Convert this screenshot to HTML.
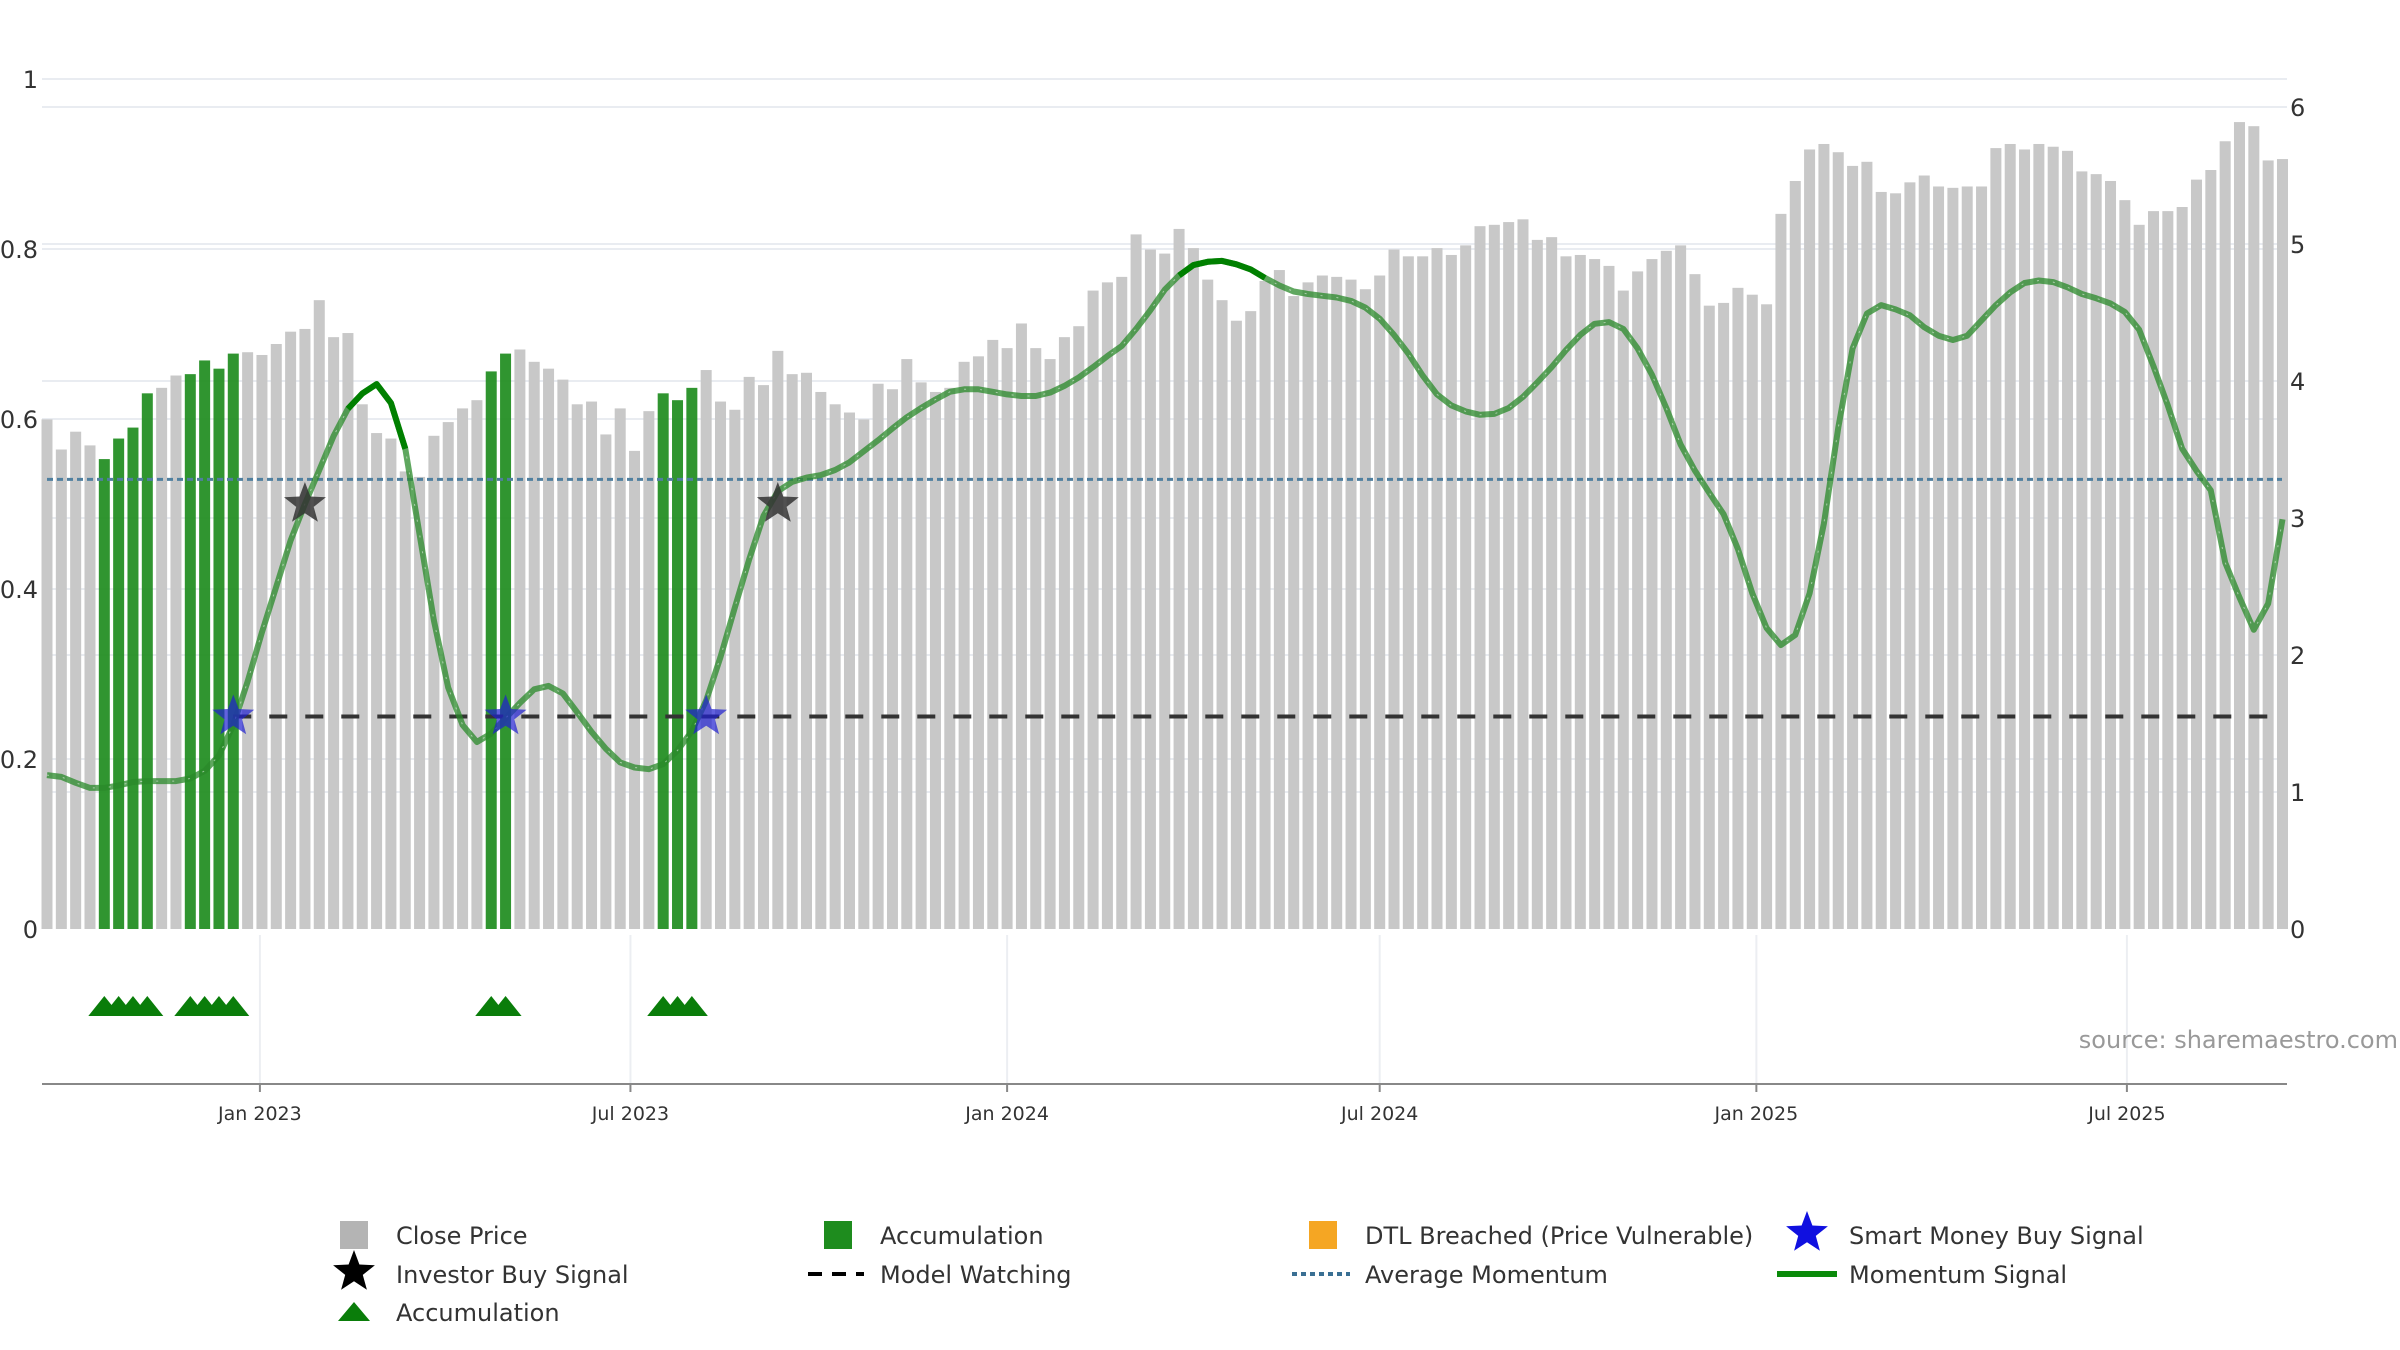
<!DOCTYPE html>
<html><head><meta charset="utf-8"><style>
body{margin:0;background:#fff;}
svg{display:block;font-family:"DejaVu Sans","Liberation Sans",sans-serif;}
</style></head><body>
<svg id="chart" width="2400" height="1350" viewBox="0 0 2400 1350" xmlns="http://www.w3.org/2000/svg">
<g id="grid"></g>
<g id="bars"></g>
<g id="lines"></g>
<g id="marks"></g>
<g id="axes"></g>
<text x="2398" y="1048" text-anchor="end" font-size="24" fill="#999">source: sharemaestro.com</text>
<g id="legend"></g>
</svg>
<script>
const startDate = "2022-09-19";
const prices = [3.72,3.50,3.63,3.53,3.43,3.58,3.66,3.91,3.95,4.04,4.05,4.15,4.09,4.20,4.21,4.19,4.27,4.36,4.38,4.59,4.32,4.35,3.83,3.62,3.58,3.34,3.30,3.60,3.70,3.80,3.86,4.07,4.20,4.23,4.14,4.09,4.01,3.83,3.85,3.61,3.80,3.49,3.78,3.91,3.86,3.95,4.08,3.85,3.79,4.03,3.97,4.22,4.05,4.06,
3.92,3.83,3.77,3.72,3.98,3.94,4.16,3.99,3.92,3.95,4.14,4.18,4.30,4.24,4.42,4.24,4.16,4.32,4.40,4.66,4.72,4.76,5.07,4.96,4.93,5.11,4.97,4.74,4.59,4.44,4.51,4.73,4.81,4.62,4.72,4.77,4.76,4.74,4.67,4.77,4.96,4.91,4.91,4.97,4.92,4.99,5.13,5.14,5.16,5.18,5.03,5.05,4.91,4.92,4.89,4.84,4.66,4.80,
4.89,4.95,4.99,4.78,4.55,4.57,4.68,4.63,4.56,5.22,5.46,5.69,5.73,5.67,5.57,5.60,5.38,5.37,5.45,5.50,5.42,5.41,5.42,5.42,5.70,5.73,5.69,5.73,5.71,5.68,5.53,5.51,5.46,5.32,5.14,5.24,5.24,5.27,5.47,5.54,5.75,5.89,5.86,5.61,5.62];
const momentum = [0.181,0.179,0.172,0.166,0.166,0.169,0.173,0.174,0.174,0.174,0.177,0.186,0.204,0.240,0.291,0.349,0.403,0.457,0.500,0.540,0.580,0.612,0.630,0.641,0.619,0.565,0.464,0.363,0.284,0.240,0.220,0.230,0.248,0.266,0.282,0.286,0.277,0.255,0.232,0.212,0.196,0.190,0.188,0.194,0.210,0.233,0.269,0.320,0.378,0.435,0.486,0.515,0.526,0.531,
0.534,0.540,0.549,0.562,0.575,0.589,0.602,0.613,0.623,0.632,0.635,0.635,0.632,0.629,0.627,0.627,0.631,0.639,0.649,0.661,0.674,0.686,0.706,0.728,0.752,0.769,0.781,0.785,0.786,0.782,0.776,0.766,0.757,0.750,0.747,0.745,0.743,0.739,0.731,0.718,0.699,0.677,0.651,0.629,0.616,0.609,0.605,0.606,0.613,0.626,0.643,0.661,0.681,0.699,0.712,0.714,0.706,0.683,
0.652,0.613,0.570,0.539,0.513,0.488,0.447,0.395,0.354,0.334,0.346,0.395,0.477,0.590,0.683,0.724,0.734,0.729,0.722,0.708,0.698,0.693,0.698,0.716,0.734,0.749,0.760,0.763,0.761,0.755,0.747,0.742,0.736,0.726,0.705,0.662,0.616,0.565,0.539,0.516,0.431,0.390,0.352,0.383,0.482];
const accumIdx = [4,5,6,7,10,11,12,13,31,32,43,44,45];
const strongRanges = [[21,25],[79,85]];
const smartIdx = [13,32,46];
const investorIdx = [18,51];
const smartLevel = 0.25;
const investorLevel = 0.5;
const avgMomentum = 0.529;
const watchLevel = 0.25;
const watchStart = 13;
const leftTicks = [0,0.2,0.4,0.6,0.8,1];
const leftTickLabels = ["0","0.2","0.4","0.6","0.8","1"];
const rightTicks = [0,1,2,3,4,5,6];
const dateTicks = ["2023-01-01","2023-07-01","2024-01-01","2024-07-01","2025-01-01","2025-07-01"];
const dateTickLabels = ["Jan 2023","Jul 2023","Jan 2024","Jul 2024","Jan 2025","Jul 2025"];

const NS="http://www.w3.org/2000/svg";
const X0=42,X1=2287,Y0=929;
const DAY=86400000, t0=Date.parse(startDate);
const PXDAY=14.33/7, BAR0=47;
function xDate(s){return BAR0+(Date.parse(s)-t0)/DAY*PXDAY;}
function xBar(i){return BAR0+i*7*PXDAY;}
function yL(v){return Y0-v*850;}
function yR(v){return Y0-v*137;}
function mk(tag,attrs,parent){const e=document.createElementNS(NS,tag);for(const k in attrs)e.setAttribute(k,attrs[k]);parent.appendChild(e);return e;}
const G=id=>document.getElementById(id);

leftTicks.forEach(v=>{if(v>0){const l=mk('line',{x1:X0,x2:X1,y1:yL(v),y2:yL(v),stroke:'#e9ecf1','stroke-width':2},G('grid'));

}});
rightTicks.forEach(v=>{if(v>0){const l=mk('line',{x1:X0,x2:X1,y1:yR(v),y2:yR(v),stroke:'#e9ecf1','stroke-width':2},G('grid'));

}});
dateTicks.forEach(d=>{const x=xDate(d);const l=mk('line',{x1:x,x2:x,y1:935,y2:1084,stroke:'#eceef2','stroke-width':2},G('grid'));

});

prices.forEach((p,i)=>{const acc=accumIdx.includes(i);const x=xBar(i);
const r=mk('rect',{x:x-5.5,y:yR(p),width:11,height:Y0-yR(p),fill:acc?'#1e8c1e':'#c8c8c8','fill-opacity':acc?0.92:1},G('bars'));

});

let a=mk('line',{x1:X0+5,x2:X1-5,y1:yL(avgMomentum),y2:yL(avgMomentum),stroke:'#4f7f9f','stroke-width':3,'stroke-dasharray':'6 4'},G('lines'));


let w=mk('line',{x1:xBar(watchStart),x2:xBar(prices.length-1),y1:yL(watchLevel),y2:yL(watchLevel),stroke:'#333','stroke-width':4,'stroke-dasharray':'18 18'},G('lines'));


const pts=momentum.map((v,i)=>xBar(i).toFixed(1)+','+yL(v).toFixed(1)).join(' ');
let m=mk('polyline',{points:pts,fill:'none',stroke:'#2a8a2a','stroke-opacity':0.75,'stroke-width':6,'stroke-linejoin':'round'},G('lines'));


let m2=mk('polyline',{points:pts,fill:'none',stroke:'#fff','stroke-opacity':0.5,'stroke-width':1,'stroke-dasharray':'2 14'},G('lines'));


strongRanges.forEach(r=>{const p=momentum.slice(r[0],r[1]+1).map((v,j)=>xBar(r[0]+j).toFixed(1)+','+yL(v).toFixed(1)).join(' ');
const s=mk('polyline',{points:p,fill:'none',stroke:'#008000','stroke-width':6,'stroke-linejoin':'round'},G('lines'));

});

function star(cx,cy,R,fill,op,parent){const p=[];for(let k=0;k<10;k++){const rr=k%2?R*0.42:R;const an=-Math.PI/2+k*Math.PI/5;p.push((cx+rr*Math.cos(an)).toFixed(1)+','+(cy+rr*Math.sin(an)).toFixed(1));}
return mk('polygon',{points:p.join(' '),fill:fill,'fill-opacity':op},parent);}
smartIdx.forEach(i=>{const s=star(xBar(i),yL(smartLevel),22,'#2020d0',0.7,G('marks'));

});
investorIdx.forEach(i=>{const s=star(xBar(i),yL(investorLevel),22,'#333',0.85,G('marks'));

});
accumIdx.forEach(i=>{const x=xBar(i),y=1006;
const t=mk('polygon',{points:`${x-16},${y+10} ${x},${y-10} ${x+16},${y+10}`,fill:'#0a7d0a'},G('marks'));

});

let ax=mk('line',{x1:X0,x2:X1,y1:1084,y2:1084,stroke:'#888','stroke-width':2},G('axes'));


dateTicks.forEach((d,i)=>{const x=xDate(d);
const tk=mk('line',{x1:x,x2:x,y1:1084,y2:1092,stroke:'#888','stroke-width':2},G('axes'));


const t=mk('text',{x:x,y:1120,'text-anchor':'middle','font-size':19,fill:'#333'},G('axes'));t.textContent=dateTickLabels[i];

});
leftTicks.forEach((v,i)=>{const t=mk('text',{x:38,y:yL(v)+9,'text-anchor':'end','font-size':24,fill:'#333'},G('axes'));t.textContent=leftTickLabels[i];

});
rightTicks.forEach(v=>{const t=mk('text',{x:2290,y:yR(v)+9,'font-size':24,fill:'#333'},G('axes'));t.textContent=String(v);

});

const L=G('legend');
function ltext(x,y,s,name){const t=mk('text',{x:x,y:y+9,'font-size':24,fill:'#333'},L);t.textContent=s;

}
const r1=1235,r2=1274,r3=1312;
let e;
e=mk('rect',{x:340,y:r1-14,width:28,height:28,fill:'#b4b4b4'},L);
ltext(396,r1,'Close Price','legend-close-price');
e=mk('rect',{x:824,y:r1-14,width:28,height:28,fill:'#1e8c1e'},L);
ltext(880,r1,'Accumulation','legend-accumulation');
e=mk('rect',{x:1309,y:r1-14,width:28,height:28,fill:'#f5a623'},L);
ltext(1365,r1,'DTL Breached (Price Vulnerable)','legend-dtl-breached');
e=star(1807,r1-2,22,'#1010e0',1,L);
ltext(1849,r1,'Smart Money Buy Signal','legend-smart-money');
e=star(354,r2-2,22,'#000',1,L);
ltext(396,r2,'Investor Buy Signal','legend-investor-buy');
e=mk('line',{x1:808,x2:864,y1:r2,y2:r2,stroke:'#000','stroke-width':4,'stroke-dasharray':'14 10'},L);
ltext(880,r2,'Model Watching','legend-model-watching');
e=mk('line',{x1:1292,x2:1350,y1:r2,y2:r2,stroke:'#3a6f93','stroke-width':4,'stroke-dasharray':'5 4'},L);
ltext(1365,r2,'Average Momentum','legend-average-momentum');
e=mk('line',{x1:1777,x2:1837,y1:r2,y2:r2,stroke:'#0a8a0a','stroke-width':6},L);
ltext(1849,r2,'Momentum Signal','legend-momentum-signal');
e=mk('polygon',{points:`338,${r3+9} 354,${r3-10} 370,${r3+9}`,fill:'#0a7d0a'},L);
ltext(396,r3,'Accumulation','legend-accumulation-signal');
</script>
</body></html>
